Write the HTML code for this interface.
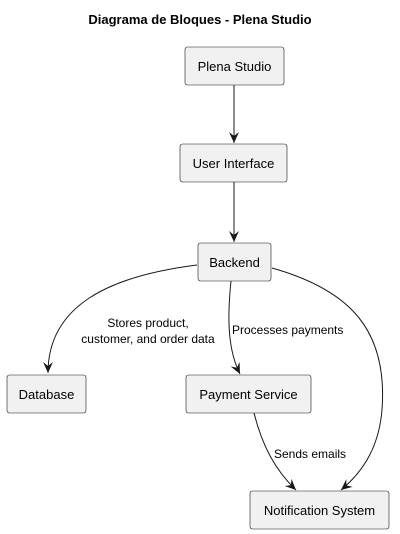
<!DOCTYPE html>
<html><head><style>body{margin:0;background:#fff}svg{display:block}</style></head><body>
<svg width="400" height="534" viewBox="0 0 400 534" xmlns="http://www.w3.org/2000/svg" font-family="Liberation Sans, sans-serif">
<defs>
<marker id="a" viewBox="0 0 12 10" refX="11" refY="5" markerWidth="12" markerHeight="10" markerUnits="userSpaceOnUse" orient="auto">
<path d="M0,0 L11,5 L0,10 L4,5 Z" fill="#181818"/>
</marker>
</defs>
<text x="200" y="24" text-anchor="middle" font-size="13" font-weight="bold" fill="#000">Diagrama de Bloques - Plena Studio</text>
<g fill="#f1f1f1" stroke="#181818" stroke-width="0.6">
<rect x="185" y="47" width="99" height="38" rx="2.5"/>
<rect x="180" y="144" width="107" height="38" rx="2.5"/>
<rect x="198" y="243" width="73" height="38" rx="2.5"/>
<rect x="7" y="375" width="79" height="38" rx="2.5"/>
<rect x="186" y="375" width="125" height="38" rx="2.5"/>
<rect x="250" y="491" width="139" height="38" rx="2.5"/>
</g>
<g font-size="13" fill="#000" text-anchor="middle">
<text x="234.5" y="71">Plena Studio</text>
<text x="233.5" y="168">User Interface</text>
<text x="234.5" y="267">Backend</text>
<text x="46.5" y="399">Database</text>
<text x="248.5" y="399">Payment Service</text>
<text x="319.5" y="515">Notification System</text>
</g>
<g fill="none" stroke="#181818" stroke-width="1" marker-end="url(#a)">
<path d="M234,85 L234,143"/>
<path d="M234,182 L234,242"/>
<path d="M197,265 C110,276 48,305 48,373"/>
<path d="M231,281 C227,320 228,350 240,374"/>
<path d="M254,413 C262,445 275,470 296,490"/>
<path d="M272,268 C350,290 388,330 382,410 C379,445 365,470 341,490"/>
</g>
<g font-size="12" fill="#000">
<text x="148" y="327" text-anchor="middle">Stores product,</text>
<text x="148" y="343" text-anchor="middle">customer, and order data</text>
<text x="232" y="334">Processes payments</text>
<text x="274" y="458">Sends emails</text>
</g>
</svg>
</body></html>
